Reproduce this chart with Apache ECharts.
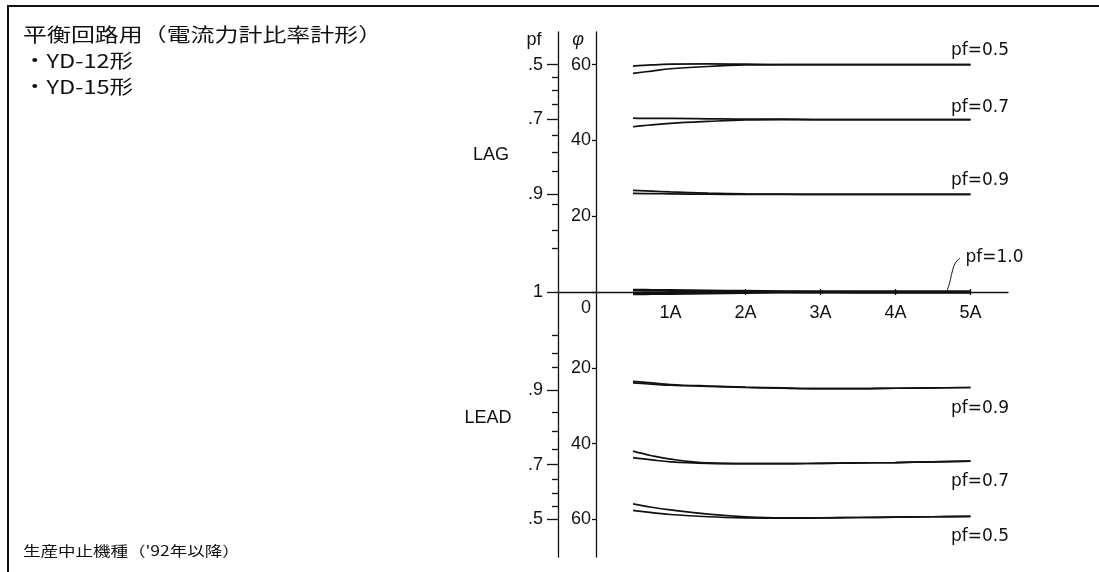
<!DOCTYPE html>
<html>
<head>
<meta charset="utf-8">
<script src="https://cdn.jsdelivr.net/npm/echarts@6/dist/echarts.min.js"></script>
<style>
  html, body { margin: 0; padding: 0; background: #fff; }
  #chart { width: 1099px; height: 572px; }
</style>
</head>
<body>
<div id="chart"></div>
<script>
// current (A) where the curves were read
let current = [0.5, 0.75, 1, 1.5, 2, 2.5, 3, 3.5, 4, 4.5, 5];

// phase angle in degrees, LAG positive / LEAD negative, two samples each
let lag05a = [59.6, 59.9, 60.1, 60.2, 60.1, 60.0, 60.0, 60.0, 60.0, 60.0, 60.0];
let lag05b = [57.7, 58.3, 58.9, 59.5, 59.9, 60.0, 60.0, 60.0, 60.0, 60.0, 60.0];
let lag07a = [45.9, 45.8, 45.8, 45.7, 45.6, 45.6, 45.5, 45.5, 45.5, 45.5, 45.5];
let lag07b = [43.6, 44.1, 44.5, 45.0, 45.4, 45.5, 45.5, 45.5, 45.5, 45.5, 45.5];
let lag09a = [26.8, 26.6, 26.4, 26.1, 25.9, 25.8, 25.75, 25.75, 25.75, 25.75, 25.75];
let lag09b = [26.0, 25.95, 25.9, 25.8, 25.75, 25.75, 25.75, 25.75, 25.75, 25.75, 25.75];
let pf10a = [0.5, 0.45, 0.4, 0.3, 0.2, 0.1, 0.05, 0, 0, 0, 0];
let pf10b = [-0.5, -0.45, -0.4, -0.3, -0.15, -0.05, 0, 0, 0, 0, 0];
let lead09a = [-23.6, -24.0, -24.4, -24.8, -25.1, -25.3, -25.5, -25.5, -25.4, -25.3, -25.2];
let lead09b = [-24.0, -24.3, -24.6, -24.9, -25.2, -25.4, -25.5, -25.5, -25.4, -25.3, -25.2];
let lead07a = [-42.0, -43.2, -44.1, -45.1, -45.3, -45.3, -45.2, -45.1, -45.0, -44.8, -44.6];
let lead07b = [-43.7, -44.3, -44.8, -45.2, -45.3, -45.3, -45.2, -45.1, -45.0, -44.8, -44.6];
let lead05a = [-55.9, -56.8, -57.5, -58.6, -59.3, -59.6, -59.6, -59.5, -59.4, -59.3, -59.2];
let lead05b = [-57.6, -58.2, -58.7, -59.3, -59.6, -59.7, -59.6, -59.5, -59.4, -59.3, -59.2];

// leader line of the pf=1.0 note
let leaderX = [4.68, 4.72, 4.76, 4.80, 4.86];
let leaderY = [0, 2.3, 5.6, 7.7, 8.9];

// axis ticks
let ampTicks = [1, 2, 3, 4, 5];
let phiTicks = [60, 40, 20, 0, -20, -40, -60];
let pfMajor = [0.5, 0.7, 0.9, 1];
let pfMajorLabels = ['.5', '.7', '.9', '1'];
let pfMinorLag = [0.55, 0.6, 0.65, 0.75, 0.8, 0.85, 0.92, 0.96, 0.98];
let pfMinorLead = [0.55, 0.6, 0.65, 0.75, 0.8, 0.85, 0.94, 0.96, 0.98];

const ink = '#111';
const axisFont = 'Liberation Sans';

function deg(pf) {
  return Math.acos(pf) * 180 / Math.PI;
}

// pf scale -> phase angle positions (LAG up, LEAD down)
let pfLabelMap = {};
let pfMajorPos = [];
pfMajor.forEach(function (pf, i) {
  let d = deg(pf);
  pfMajorPos.push(d);
  pfLabelMap[d.toFixed(3)] = pfMajorLabels[i];
  if (d > 0) {
    pfMajorPos.push(-d);
    pfLabelMap[(-d).toFixed(3)] = pfMajorLabels[i];
  }
});
let pfMinorPos = pfMinorLag.map(deg).concat(pfMinorLead.map(function (pf) { return -deg(pf); }));

function pairs(ys) {
  return current.map(function (x, i) { return [x, ys[i]]; });
}

// curve pairs with their note
let curves = [
  {a: lag05a, b: lag05b, text: 'pf=0.5', offset: [9.5, -14]},
  {a: lag07a, b: lag07b, text: 'pf=0.7', offset: [9.5, -12]},
  {a: lag09a, b: lag09b, text: 'pf=0.9', offset: [9.5, -14]},
  {a: pf10a, b: pf10b, text: 'pf=1.0', offset: [24, -34], width: 2.8},
  {a: lead09a, b: lead09b, text: 'pf=0.9', offset: [9.5, 21]},
  {a: lead07a, b: lead07b, text: 'pf=0.7', offset: [9.5, 21]},
  {a: lead05a, b: lead05b, text: 'pf=0.5', offset: [9.5, 20.5]}
];

let series = [];
curves.forEach(function (c) {
  let last = c.a.length - 1;
  [c.a, c.b].forEach(function (ys, k) {
    let s = {
      type: 'line',
      xAxisIndex: 0,
      yAxisIndex: 0,
      smooth: 0.4,
      showSymbol: false,
      silent: true,
      data: pairs(ys),
      lineStyle: {color: ink, width: c.width || 1.7}
    };
    if (k === 0) {
      s.markPoint = {
        symbol: 'circle',
        symbolSize: 0,
        silent: true,
        data: [{coord: [current[last], ys[last]]}],
        label: {
          show: true,
          position: 'inside',
          offset: c.offset,
          formatter: c.text,
          fontFamily: 'DejaVu Sans',
          fontSize: 17,
          color: ink
        }
      };
    }
    series.push(s);
  });
});
series.push({
  type: 'line',
  xAxisIndex: 0,
  yAxisIndex: 0,
  smooth: 0.5,
  showSymbol: false,
  silent: true,
  data: leaderX.map(function (x, i) { return [x, leaderY[i]]; }),
  lineStyle: {color: ink, width: 1}
});

let yMin = -69.92;
let yMax = 68.6;
let xMin = -0.5;
let xMax = 5.5;
let axisLineStyle = {color: ink, width: 1.3};

function box(extra) {
  return Object.assign({left: 558, right: 91, top: 32, bottom: 15, outerBoundsMode: 'none', containLabel: false}, extra || {});
}
function hiddenX(g) {
  return {gridIndex: g, type: 'value', min: xMin, max: xMax, show: false};
}
function hiddenY(g) {
  return {gridIndex: g, type: 'value', min: yMin, max: yMax, show: false};
}

let chart = echarts.init(document.getElementById('chart'));
let option = {
  animation: false,
  backgroundColor: '#fff',
  grid: [
    box(),                            // 0 curves
    box(),                            // 1 pf major
    box(),                            // 2 pf minor
    box({left: 596}),                 // 3 phase angle
    box({bottom: null, height: 260}), // 4 current axis (line at phi = 0)
    box({top: 292})                   // 5 upward current ticks
  ],
  xAxis: [
    hiddenX(0),
    hiddenX(1),
    hiddenX(2),
    hiddenX(3),
    {
      gridIndex: 4, type: 'value', min: xMin, max: xMax, position: 'bottom',
      axisLine: {onZero: false, lineStyle: axisLineStyle},
      axisTick: {customValues: ampTicks, length: 3, lineStyle: axisLineStyle},
      axisLabel: {
        customValues: ampTicks, margin: 12,
        formatter: function (v) { return v + 'A'; },
        fontFamily: axisFont, fontSize: 18, color: ink
      },
      splitLine: {show: false}
    },
    {
      gridIndex: 5, type: 'value', min: xMin, max: xMax, position: 'top',
      axisLine: {show: false, onZero: false},
      axisTick: {customValues: ampTicks, length: 3, lineStyle: axisLineStyle},
      axisLabel: {show: false},
      splitLine: {show: false}
    }
  ],
  yAxis: [
    hiddenY(0),
    {
      gridIndex: 1, type: 'value', min: yMin, max: yMax, position: 'left',
      name: 'pf', nameLocation: 'end', nameGap: -17,
      nameTextStyle: {fontFamily: axisFont, fontSize: 18, color: ink, padding: [0, 48, 0, 0]},
      axisLine: {onZero: false, lineStyle: axisLineStyle},
      axisTick: {customValues: pfMajorPos, length: 11, lineStyle: axisLineStyle},
      axisLabel: {
        customValues: pfMajorPos, margin: 15,
        formatter: function (v) { return pfLabelMap[v.toFixed(3)] || ''; },
        fontFamily: axisFont, fontSize: 18, color: ink
      },
      splitLine: {show: false}
    },
    {
      gridIndex: 2, type: 'value', min: yMin, max: yMax, position: 'left',
      axisLine: {show: false, onZero: false},
      axisTick: {customValues: pfMinorPos, length: 6, lineStyle: axisLineStyle},
      axisLabel: {show: false},
      splitLine: {show: false}
    },
    {
      gridIndex: 3, type: 'value', min: yMin, max: yMax, position: 'left',
      name: 'φ', nameLocation: 'end', nameGap: -17,
      nameTextStyle: {fontFamily: axisFont, fontSize: 18, fontStyle: 'italic', color: ink, padding: [0, 36, 0, 0]},
      axisLine: {onZero: false, lineStyle: axisLineStyle},
      axisTick: {customValues: phiTicks, length: 4, lineStyle: axisLineStyle},
      axisLabel: {
        customValues: phiTicks, margin: 5,
        formatter: function (v) { return v === 0 ? '{z|0}' : String(Math.abs(v)); },
        fontFamily: axisFont, fontSize: 18, color: ink,
        rich: {z: {fontFamily: axisFont, fontSize: 18, color: ink, padding: [32, 0, 0, 0]}}
      },
      splitLine: {show: false}
    },
    {gridIndex: 4, type: 'value', min: 0, max: 1, show: false},
    {gridIndex: 5, type: 'value', min: 0, max: 1, show: false}
  ],
  graphic: [
    {type: 'polyline', silent: true, shape: {points: [[8, 572], [8, 6], [1099, 6]]}, style: {stroke: ink, lineWidth: 2, fill: null}},
    {type: 'text', x: 23, y: 35, scaleX: 1.26, style: {text: '平衡回路用（電流力計比率計形）', font: '19px "Noto Sans CJK JP"', fill: ink, verticalAlign: 'middle'}},
    {type: 'text', x: 23, y: 61, scaleX: 1.24, style: {text: '・YD-12形', font: '19px "Noto Sans CJK JP"', fill: ink, verticalAlign: 'middle'}},
    {type: 'text', x: 23, y: 87, scaleX: 1.24, style: {text: '・YD-15形', font: '19px "Noto Sans CJK JP"', fill: ink, verticalAlign: 'middle'}},
    {type: 'text', x: 23, y: 551, scaleX: 1.25, style: {text: '生産中止機種（\'92年以降）', font: '14px "Noto Sans CJK JP"', fill: ink, verticalAlign: 'middle'}},
    {type: 'text', x: 491, y: 155, style: {text: 'LAG', font: '18px "Liberation Sans"', fill: ink, align: 'center', verticalAlign: 'middle'}},
    {type: 'text', x: 488, y: 418, style: {text: 'LEAD', font: '18px "Liberation Sans"', fill: ink, align: 'center', verticalAlign: 'middle'}}
  ],
  series: series
};
chart.setOption(option);
</script>
</body>
</html>
